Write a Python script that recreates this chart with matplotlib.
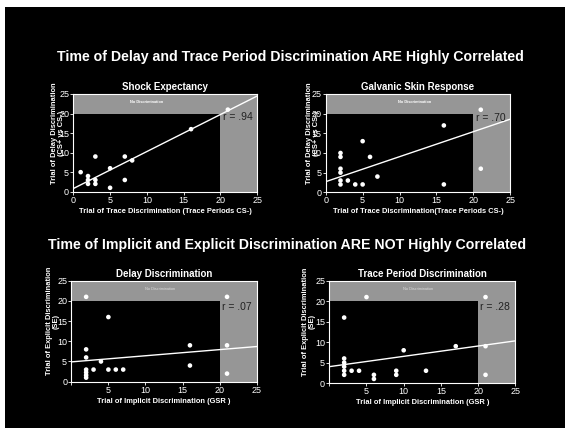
import numpy as np
import matplotlib.pyplot as plt
from matplotlib.patches import Rectangle

plt.rcParams['font.family'] = ['Liberation Sans', 'DejaVu Sans']

# --- data ---
shock_x = [1, 2, 2, 2, 3, 3, 3, 5, 5, 7, 7, 8, 16, 21]
shock_y = [5, 4, 3, 2, 9, 3, 2, 6, 1, 9, 3, 8, 16, 21]
shock_fit = (0.8, 0.948)      # intercept, slope
shock_r = 'r = .94'

gsr_x = [2, 2, 2, 2, 2, 2, 3, 4, 5, 5, 6, 7, 16, 16, 21, 21]
gsr_y = [10, 9, 6, 5, 3, 2, 3, 2, 13, 2, 9, 4, 17, 2, 21, 6]
gsr_fit = (2.7, 0.636)
gsr_r = 'r = .70'

delay_x = [2, 2, 2, 2, 2, 2, 2, 3, 4, 5, 5, 6, 7, 16, 16, 21, 21, 21]
delay_y = [21, 8, 6, 3, 2.3, 1.6, 1, 3, 5, 16, 3, 3, 3, 9, 4, 21, 9, 2]
delay_fit = (4.9, 0.152)
delay_r = 'r = .07'

trace_x = [2, 2, 2, 2, 2, 2, 3, 4, 5, 6, 6, 9, 9, 10, 13, 17, 21, 21, 21]
trace_y = [16, 6, 5, 4, 3, 2, 3, 3, 21, 2, 1, 3, 2, 8, 3, 9, 21, 9, 2]
trace_fit = (4.0, 0.252)
trace_r = 'r = .28'

ticks = [0, 5, 10, 15, 20, 25]

fig = plt.figure(figsize=(5.65, 4.28), dpi=100, facecolor='white')
fig.patches.append(Rectangle((5 / 565, 0), 1, 421 / 428, transform=fig.transFigure,
                             facecolor='black', edgecolor='none', zorder=-10))


def panel(rect, xs, ys, fit, rtxt, title, xlabel, ylabel, label_x, nd_x, upper):
    ax = fig.add_axes(rect)
    ax.set_facecolor('black')
    ax.set_xlim(0, 25)
    ax.set_ylim(0, 25)
    grey = '#969696'
    ax.add_patch(Rectangle((0, 20), 25, 5, facecolor=grey, edgecolor='none', zorder=0))
    ax.add_patch(Rectangle((20, 0), 5, 20, facecolor=grey, edgecolor='none', zorder=0))
    if upper:
        ax.text(nd_x, 23, 'No Discrimination', color='white', fontsize=2.8,
                fontweight='bold', ha='center', va='center')
    else:
        ax.text(nd_x, 23, 'No Discrimination', color='#dddddd', fontsize=2.8,
                ha='center', va='center')
    xx = np.array([0, 25])
    ax.plot(xx, fit[0] + fit[1] * xx, color='white', lw=1.0, zorder=2)
    ax.scatter(xs, ys, s=11, color='white', edgecolors='none', zorder=3)
    ax.text(20.3, 19.0 if upper else 18.5, rtxt, color='#222222', fontsize=7.5,
            va='center', ha='left')
    for s in ax.spines.values():
        s.set_color('white')
        s.set_linewidth(0.8)
    ax.set_xticks(ticks)
    ax.set_yticks(ticks)
    if upper:
        ax.set_xticklabels([str(t) for t in ticks])
    else:
        ax.set_xticklabels([''] + [str(t) for t in ticks[1:]])
    ax.tick_params(colors='white', labelsize=6.5, length=2, width=0.6, pad=1)
    ax.set_title(title, color='white', fontsize=7, fontweight='bold', pad=3)
    ax.set_xlabel(xlabel, color='white', fontsize=5.4, fontweight='bold', labelpad=2)
    ax.set_ylabel(ylabel, color='white', fontsize=5.4, fontweight='bold',
                  linespacing=1.0)
    ax.yaxis.set_label_coords(label_x, 0.6)
    return ax


panel([0.1297, 0.5521, 0.3257, 0.2283], shock_x, shock_y, shock_fit, shock_r,
      'Shock Expectancy', 'Trial of Trace Discrimination (Trace Periods CS-)',
      'Trial of Delay Discrimination\n(CS+ vs CS-)', -0.045, 10, True)
panel([0.5765, 0.5507, 0.3267, 0.2297], gsr_x, gsr_y, gsr_fit, gsr_r,
      'Galvanic Skin Response', 'Trial of Trace Discrimination(Trace Periods CS-)',
      'Trial of Delay Discrimination\n(CS+ vs CS-)', -0.031, 12, True)
panel([0.1262, 0.1082, 0.3281, 0.236], delay_x, delay_y, delay_fit, delay_r,
      'Delay Discrimination', 'Trial of Implicit Discrimination (GSR )',
      'Trial of Explicit Discrimination\n(SE)', -0.061, 12, False)
panel([0.5828, 0.1051, 0.3292, 0.239], trace_x, trace_y, trace_fit, trace_r,
      'Trace Period Discrimination', 'Trial of Implicit Discrimination (GSR )',
      'Trial of Explicit Discrimination\n(SE)', -0.072, 12, False)

fig.text(0.514, 0.866, 'Time of Delay and Trace Period Discrimination ARE Highly Correlated',
         color='white', fontsize=10.2, fontweight='bold', ha='center', va='center')
fig.text(0.508, 0.4276, 'Time of Implicit and Explicit Discrimination ARE NOT Highly Correlated',
         color='white', fontsize=10.2, fontweight='bold', ha='center', va='center')

fig.savefig('out.png', dpi=100, facecolor=fig.get_facecolor())
